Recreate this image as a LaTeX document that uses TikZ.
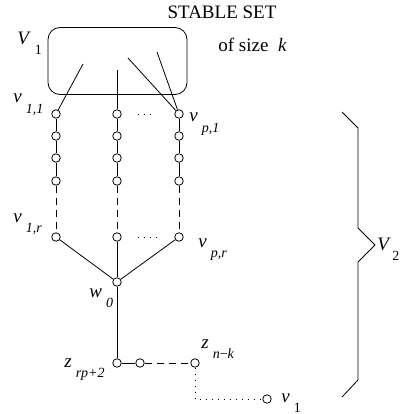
\documentclass[tikz,border=0pt]{standalone}
\usepackage{fontspec}
\setmainfont{Liberation Serif}
\usetikzlibrary{positioning}

\newcommand{\lowsub}[2][4pt]{\hspace{#1}\raisebox{-10pt}{\fontsize{14}{16}\selectfont #2}}

\begin{document}
\begin{tikzpicture}[x=1pt, y=-1pt, line width=0.8pt,
  vertex/.style={circle, draw, fill=white, inner sep=0pt, minimum size=8.5pt},
  ldash/.style={dash pattern=on 7pt off 5pt},
  ldots/.style={dash pattern=on 1pt off 5pt},
  lbl/.style={anchor=base west, inner sep=0pt, font=\fontsize{19}{22}\selectfont}]
\useasboundingbox (0,0) rectangle (400,414);

% Stable set
\node[draw, rounded corners=12pt, minimum width=139pt, minimum height=67pt, inner sep=0pt] (set) at (117.5,61) {};
\node[lbl, anchor=base] (title) at (222,19) {STABLE SET};
\node[lbl] (size) at (218,52) {of size\ \ \textit{k}};
\node[lbl] (V1) at (17,45) {\textit{V}\lowsub{1}};

% Paths
\foreach \c/\x in {1/56, m/117, p/179} {
  \foreach \r/\y in {1/114, 2/136, 3/158, 4/181}
    \node[vertex] (v\c\r) at (\x,\y) {};
  \node[vertex] (v\c r) at (\x,237) {};
  \draw (v\c1) -- (v\c2) -- (v\c3) -- (v\c4);
  \draw[ldash] (v\c4) -- (v\c r);
}
\draw[ldots, shorten <=16pt, shorten >=21pt] (vm1) -- (vp1);
\draw[ldots, shorten <=16pt, shorten >=16pt] (vmr) -- (vpr);

% Edges into the stable set
\coordinate (s1) at (83,64);
\coordinate (s2) at (117,70);
\coordinate (s3) at (128,58);
\coordinate (s4) at (157,52);
\draw (v11) -- (s1);
\draw (vm1) -- (s2);
\draw (vp1) -- (s3);
\draw (vp1) -- (s4);

% Tail
\node[vertex] (w0) at (117,282) {};
\node[vertex] (z1) at (117,363) {};
\node[vertex] (z2) at (140,363) {};
\node[vertex] (zn) at (195,363) {};
\node[vertex] (u1) at (267,399) {};
\coordinate (corner) at (195,399);
\draw (v1r) -- (w0);
\draw (vmr) -- (w0);
\draw (vpr) -- (w0);
\draw (w0) -- (z1) -- (z2);
\draw[ldash] (z2) -- (zn);
\draw[ldots] (zn) -- (corner) -- (u1);

% Labels
\node[lbl] (l11) at (13,103) {\textit{v}\lowsub{\textit{1,1}}};
\node[lbl] (lp1) at (189,122) {\textit{v}\lowsub{\textit{p,1}}};
\node[lbl] (l1r) at (13,222) {\textit{v}\lowsub{\textit{1,r}}};
\node[lbl] (lpr) at (198,247) {\textit{v}\lowsub{\textit{p,r}}};
\node[lbl] (lw0) at (89,297) {\textit{w}\lowsub{\textit{0}}};
\node[lbl] (lz1) at (64,367) {\textit{z}\lowsub{\textit{rp+2}}};
\node[lbl] (lzn) at (201,348) {\textit{z}\lowsub{\textit{n}−\textit{k}}};
\node[lbl] (lu1) at (281,402) {\textit{v}\lowsub{1}};

% Brace
\draw (342,112) -- (358,128) -- (358,228) -- (375,245) -- (358,262) -- (358,380) -- (342,397);
\node[lbl] (V2) at (377,250) {\textit{V}\lowsub[1.5pt]{2}};
\end{tikzpicture}
\end{document}
